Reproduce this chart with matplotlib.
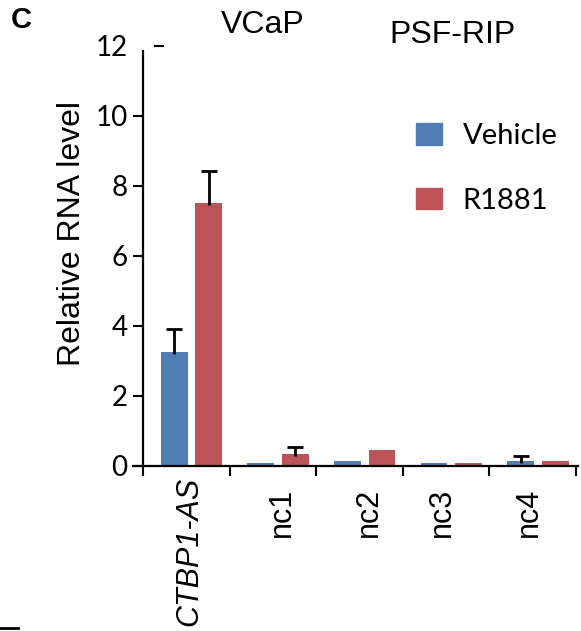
import matplotlib.pyplot as plt
from matplotlib.patches import Patch
from matplotlib.lines import Line2D
import matplotlib.transforms as mtransforms
import numpy as np

plt.rcParams['font.family'] = ['Liberation Sans', 'DejaVu Sans']

genes = ['CTBP1-AS', 'nc1', 'nc2', 'nc3', 'nc4']
vehicle = [3.26, 0.09, 0.15, 0.08, 0.15]
vehicle_err = [0.65, 0.0, 0.0, 0.0, 0.15]
r1881 = [7.51, 0.35, 0.46, 0.08, 0.14]
r1881_err = [0.92, 0.2, 0.0, 0.0, 0.0]
yticks = [0, 2, 4, 6, 8, 10, 12]

blue = '#4F7DB4'
red = '#BC5356'
calib = ['Lato', 'DejaVu Sans']
label_shift = [0.04, 0.11, 0.11, -0.05, -0.04]

fig = plt.figure(figsize=(5.81, 6.31), dpi=100)
ax = fig.add_axes([133/581, 1-466/631, 445/581, 420/631])

x = np.arange(len(genes))
w = 0.31
ax.bar(x + 0.06 - 0.2, vehicle, w, color=blue, zorder=2)
ax.bar(x + 0.06 + 0.2, r1881, w, color=red, zorder=2)
for xs, v, e in [(x + 0.06 - 0.2, vehicle, vehicle_err), (x + 0.06 + 0.2, r1881, r1881_err)]:
    for xi, vi, ei in zip(xs, v, e):
        if ei > 0:
            eb = ax.errorbar(xi, vi, yerr=[[0.05], [ei]], fmt='none', ecolor='black',
                             elinewidth=2, capsize=5.5, capthick=2, zorder=3)
            eb[1][0].set_visible(False)  # only the upper cap

ax.set_xlim(-0.615, 4.523)
ax.set_ylim(0, 12)
for s in ['top', 'right']:
    ax.spines[s].set_visible(False)
ax.spines['left'].set_position(('data', -0.5))
ax.spines['left'].set_bounds(0, 11.85)
ax.spines['left'].set_linewidth(1.6)
ax.spines['bottom'].set_linewidth(1.6)

ax.set_yticks(yticks)
ax.set_yticklabels([str(t) for t in yticks], fontsize=20, family=calib)
ax.tick_params(axis='y', direction='out', length=7, width=1.5, pad=4)
# the odd "12" tick of the original, shifted to the right of the axis
ax.yaxis.get_major_ticks()[-1].tick1line.set_visible(False)
ax.add_line(Line2D([0.049, 0.067], [12, 12], transform=ax.get_yaxis_transform(),
                   color='black', lw=1.5, clip_on=False))

# x category labels
ax.set_xticks([])
ax.set_xticks(np.arange(-0.5, 5, 1), minor=True)
ax.tick_params(axis='x', which='minor', direction='out', length=7, width=1.5)
trans = ax.get_xaxis_transform()
for i, g in enumerate(genes):
    dy = -11 if i == 0 else -22
    off = mtransforms.offset_copy(trans, fig=fig, x=0, y=dy, units='dots')
    ax.text(i + label_shift[i], 0, g, rotation=90, fontsize=22, ha='center', va='top',
            style='italic' if i == 0 else 'normal', transform=off)

fig.text(72/581, 1-234/631, 'Relative RNA level', rotation=90, fontsize=23,
         ha='center', va='center')
fig.text(263/581, 1-25/631, 'VCaP', fontsize=23, ha='center', va='center')
fig.text(452/581, 1-35/631, 'PSF-RIP', fontsize=23, ha='center', va='center')
fig.text(21/581, 1-20/631, 'C', fontsize=21, fontweight='bold', ha='center', va='center')
fig.add_artist(Line2D([0, 18/581], [1-628/631, 1-628/631], color='black', lw=2))

handles = [Patch(color=blue, label='Vehicle'), Patch(color=red, label='R1881')]
fig.legend(handles=handles, loc='upper left', bbox_to_anchor=(416/581, 1-123/631),
           frameon=False, prop={'family': calib, 'size': 21},
           handlelength=0.88, handleheight=0.75,
           handletextpad=0.72, labelspacing=1.33, borderpad=0, borderaxespad=0)

fig.savefig('out.png', dpi=100)
